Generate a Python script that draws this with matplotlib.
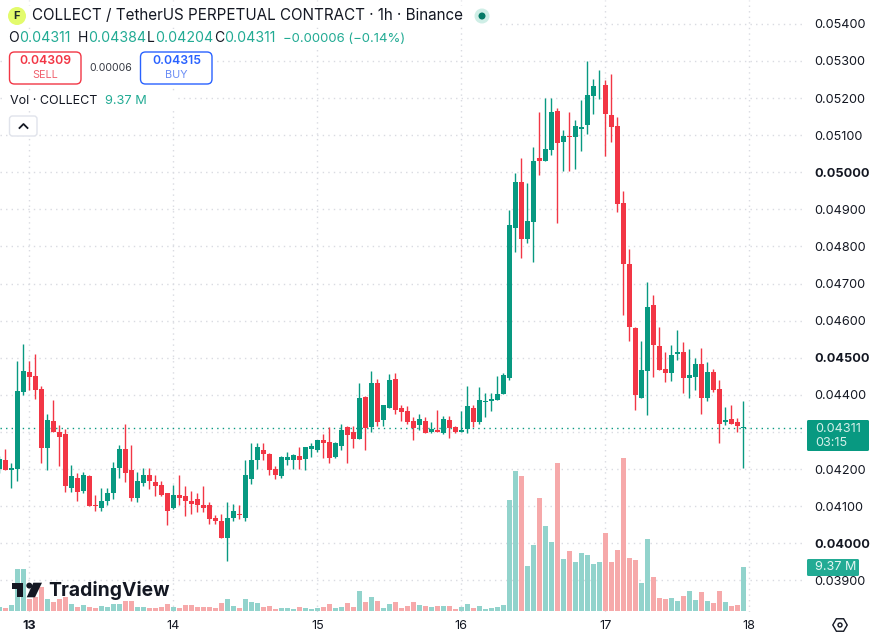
import numpy as np
import matplotlib
matplotlib.use('Agg')
import matplotlib.pyplot as plt
from matplotlib.patches import Circle, FancyBboxPatch, Polygon, Rectangle, RegularPolygon

plt.rcParams['font.family'] = ['Inter', 'DejaVu Sans']

# Hourly OHLC for COLLECTUSDT, in units of 0.00001. Hour 0 is the start of the 13th.
first_hour = -5
opens = [4199, 4223, 4196, 4199, 4407, 4461, 4450, 4415, 4256, 4329, 4299, 4293, 4150, 4175, 4142, 4180, 4104, 4096, 4115, 4134,
         4204, 4253, 4196, 4123, 4161, 4185, 4164, 4156, 4134, 4094, 4129, 4126, 4113, 4118, 4102, 4102, 4067, 4059, 4015, 4067,
         4080, 4069, 4174, 4225, 4252, 4241, 4201, 4182, 4225, 4225, 4236, 4228, 4255, 4250, 4277, 4272, 4231, 4261, 4312, 4299,
         4280, 4393, 4312, 4431, 4331, 4364, 4442, 4364, 4355, 4329, 4318, 4329, 4301, 4304, 4296, 4331, 4312, 4301, 4307, 4364,
         4326, 4380, 4383, 4385, 4401, 4446, 4850, 4974, 4820, 4866, 5039, 5031, 5060, 5166, 5082, 5098, 5095, 5117, 5128, 5206,
         5234, 5236, 5155, 5125, 4917, 4752, 4580, 4391, 4464, 4642, 4531, 4469, 4458, 4509, 4515, 4445, 4447, 4482, 4391, 4461,
         4415, 4328, 4334, 4326, 4311]
highs = [4235, 4253, 4217, 4491, 4537, 4491, 4509, 4423, 4347, 4385, 4318, 4307, 4210, 4188, 4191, 4185, 4131, 4148, 4150, 4218,
         4264, 4320, 4264, 4191, 4204, 4204, 4183, 4169, 4134, 4156, 4185, 4153, 4142, 4134, 4153, 4110, 4077, 4080, 4110, 4107,
         4102, 4223, 4271, 4271, 4271, 4244, 4209, 4236, 4247, 4241, 4260, 4260, 4269, 4277, 4293, 4312, 4272, 4320, 4315, 4315,
         4431, 4396, 4464, 4442, 4372, 4455, 4458, 4372, 4369, 4339, 4347, 4339, 4326, 4358, 4342, 4342, 4315, 4355, 4423, 4372,
         4420, 4404, 4404, 4450, 4458, 4898, 4998, 5039, 4971, 5068, 5163, 5201, 5201, 5174, 5114, 5163, 5141, 5195, 5301, 5252,
         5276, 5249, 5266, 5149, 4950, 4793, 4582, 4544, 4704, 4669, 4582, 4515, 4534, 4574, 4542, 4523, 4499, 4526, 4488, 4469,
         4439, 4366, 4372, 4337, 4384]
lows = [4190, 4196, 4150, 4169, 4399, 4412, 4388, 4215, 4196, 4299, 4207, 4137, 4137, 4115, 4134, 4099, 4088, 4088, 4104, 4118,
        4177, 4164, 4113, 4110, 4153, 4145, 4126, 4126, 4048, 4091, 4104, 4072, 4078, 4085, 4083, 4053, 4053, 4013, 3953, 4061,
        4064, 4061, 4160, 4201, 4225, 4185, 4174, 4177, 4212, 4201, 4201, 4196, 4231, 4245, 4229, 4215, 4229, 4250, 4215, 4256,
        4280, 4250, 4301, 4315, 4315, 4364, 4347, 4329, 4320, 4277, 4304, 4296, 4296, 4301, 4293, 4283, 4296, 4301, 4296, 4312,
        4320, 4339, 4355, 4385, 4401, 4440, 4785, 4769, 4808, 4758, 4993, 5031, 5047, 4863, 5004, 5004, 5009, 5058, 5104, 5158,
        5198, 5044, 5082, 4894, 4615, 4544, 4358, 4391, 4345, 4447, 4466, 4434, 4436, 4493, 4404, 4391, 4412, 4347, 4382, 4407,
        4269, 4318, 4320, 4301, 4204]
closes = [4226, 4196, 4204, 4410, 4464, 4447, 4412, 4256, 4331, 4299, 4285, 4153, 4180, 4137, 4183, 4099, 4099, 4113, 4134, 4204,
          4253, 4188, 4121, 4167, 4185, 4167, 4153, 4131, 4088, 4129, 4123, 4115, 4107, 4104, 4096, 4064, 4059, 4015, 4069, 4086,
          4075, 4183, 4225, 4258, 4241, 4198, 4185, 4231, 4231, 4239, 4223, 4258, 4261, 4277, 4269, 4229, 4269, 4304, 4291, 4280,
          4391, 4310, 4431, 4328, 4372, 4439, 4358, 4353, 4326, 4310, 4334, 4296, 4307, 4301, 4334, 4310, 4301, 4304, 4369, 4326,
          4385, 4383, 4388, 4401, 4453, 4858, 4974, 4820, 4869, 5031, 5031, 5063, 5163, 5079, 5098, 5095, 5125, 5122, 5209, 5233,
          5236, 5158, 5122, 4913, 4752, 4583, 4399, 4466, 4636, 4534, 4466, 4458, 4507, 4515, 4445, 4453, 4482, 4391, 4461, 4412,
          4320, 4331, 4320, 4317, 4311]

# Volume per candle, in millions
volumes = [0.92, 0.57, 1.28, 8.87, 8.87, 2.48, 3.05, 5.04, 2.48, 1.99, 2.48, 2.91, 1.49, 0.85, 1.28, 0.85, 0.64, 1.06, 0.85, 1.49,
           1.49, 2.13, 2.13, 0.85, 0.85, 0.64, 0.64, 0.85, 1.49, 0.85, 0.64, 1.28, 1.28, 0.85, 0.85, 0.85, 0.64, 1.70, 2.56, 1.06,
           0.64, 2.56, 1.92, 1.70, 0.85, 1.06, 0.43, 0.64, 0.64, 0.43, 0.85, 0.64, 0.43, 0.64, 0.85, 1.49, 0.64, 0.85, 1.70, 0.85,
           4.26, 1.92, 2.98, 2.13, 0.64, 1.49, 1.92, 0.64, 1.06, 1.92, 1.28, 1.06, 0.85, 1.06, 1.06, 1.06, 0.43, 0.85, 1.49, 0.64,
           1.06, 0.43, 0.64, 0.85, 1.28, 23.64, 29.81, 28.75, 9.58, 14.05, 24.06, 18.10, 14.69, 31.52, 11.07, 12.78, 10.43, 12.35, 11.93, 10.01,
           10.43, 16.61, 10.43, 12.99, 32.58, 11.29, 10.86, 5.96, 15.33, 7.24, 2.77, 2.56, 2.77, 2.13, 3.19, 4.26, 2.34, 4.05, 2.13, 1.70,
           4.26, 1.92, 1.06, 1.28, 9.37]

price_ticks = [0.054, 0.053, 0.052, 0.051, 0.050, 0.049, 0.048, 0.047, 0.046, 0.045, 0.044, 0.043, 0.042, 0.041, 0.040, 0.039]
bold_prices = [0.050, 0.045, 0.040]
hidden_price = 0.043  # sits under the last price tag
day_ticks = [0, 24, 48, 72, 96, 120]
day_labels = ['13', '14', '15', '16', '17', '18']
last_price = 0.04311

UP = '#089981'
DOWN = '#f23645'
UP_VOL = '#92d3cc'
DOWN_VOL = '#f6a9aa'
GRID = '#d9dbe1'
TEXT = '#131722'

W, H = 874, 639
PLOT_R, PLOT_B = 805, 612

o = np.array(opens) / 1e5
h = np.array(highs) / 1e5
l = np.array(lows) / 1e5
c = np.array(closes) / 1e5
hours = np.arange(len(o)) + first_hour
colors = [UP if cl >= op else DOWN for op, cl in zip(o, c)]
vol_colors = [UP_VOL if cl >= op else DOWN_VOL for op, cl in zip(o, c)]

fig = plt.figure(figsize=(W / 100, H / 100), dpi=100, facecolor='white')
rect = [0, 1 - PLOT_B / H, PLOT_R / W, PLOT_B / H]

# Price pane
ax = fig.add_axes(rect, zorder=1)
ax.set_xlim(-29.3 / 6, (PLOT_R - 29.3) / 6)
px_per_price = 37100
ax.set_ylim(0.05 - (PLOT_B - 172.2) / px_per_price, 0.05 + 172.2 / px_per_price)
for s in ax.spines.values():
    s.set_visible(False)
ax.set_xticks(day_ticks)
ax.set_xticklabels(day_labels)
ax.set_yticks(price_ticks)
ax.set_yticklabels(['' if p == hidden_price else f'{p:.5f}' for p in price_ticks])
ax.yaxis.tick_right()
ax.tick_params(axis='both', length=0, labelsize=9.1, colors=TEXT)
ax.tick_params(axis='x', pad=6)
ax.tick_params(axis='y', pad=7)
ax.set_axisbelow(True)
ax.grid(True, color=GRID, lw=1, ls=(0, (1, 3)))
for lab, p in zip(ax.get_yticklabels(), price_ticks):
    if p in bold_prices:
        lab.set_fontweight('bold')
ax.get_xticklabels()[0].set_fontweight('bold')

ax.vlines(hours, l, h, colors=colors, lw=1, zorder=3)
ax.bar(hours, np.maximum(np.abs(c - o), 0.00002), bottom=np.minimum(o, c), width=0.78,
       color=colors, lw=0, zorder=4)
ax.axhline(last_price, color=UP, lw=1, ls=(0, (1, 3)), zorder=2)

# Volume pane sits on the same rectangle with its own scale
ax_vol = fig.add_axes(rect, zorder=2, sharex=ax)
ax_vol.patch.set_visible(False)
ax_vol.axis('off')
px_per_vol = 44 / 9.37
ax_vol.set_ylim(-1 / px_per_vol, (PLOT_B - 1) / px_per_vol)
ax_vol.bar(hours, volumes, width=0.78, color=vol_colors, lw=0)

# Overlay in pixel coordinates for the legend, tags and logo
ui = fig.add_axes([0, 0, 1, 1], zorder=5)
ui.set_xlim(0, W)
ui.set_ylim(H, 0)
ui.axis('off')


def label(x, y, s, color=TEXT, size=9.2, weight='normal', ha='left', **kw):
    ui.text(x, y, s, color=color, fontsize=size, fontweight=weight, ha=ha, va='center', **kw)


# Legend background hides the grid underneath
ui.add_patch(Rectangle((0, 6), 497, 21, fc='white', ec='none'))
ui.add_patch(Rectangle((0, 29), 410, 18, fc='white', ec='none'))
ui.add_patch(Rectangle((6, 50), 210, 36, fc='white', ec='none'))
ui.add_patch(Rectangle((6, 93), 170, 16, fc='white', ec='none'))

ui.add_patch(Circle((17, 16), 9, fc='#e3fb6c', ec='none'))
label(17, 16.3, 'F', color='#1e2b2a', size=8, weight='bold', ha='center')
label(32, 16, 'COLLECT / TetherUS PERPETUAL CONTRACT · 1h · Binance', size=10.95)
ui.add_patch(Circle((482, 16), 7.5, fc='#cfeee6', ec='none'))
ui.add_patch(Circle((482, 16), 3.5, fc='#067a66', ec='none'))

GREEN_TXT = '#22ab94'
for x_key, key in [(8, 'O'), (78, 'H'), (147, 'L'), (214, 'C')]:
    label(x_key, 38.5, key, size=10)
for x_val, val in [(19, '0.04311'), (88, '0.04384'), (155, '0.04204'), (224, '0.04311')]:
    label(x_val, 38.5, val, color=GREEN_TXT, size=10.2)
label(283, 38.5, '\u22120.00006 (\u22120.14%)', color=GREEN_TXT, size=9.45)

ui.add_patch(FancyBboxPatch((9.5, 52), 71.5, 32, boxstyle='round,pad=0,rounding_size=5', fc='white', ec=DOWN, lw=1))
label(45.5, 61, '0.04309', color=DOWN, size=8.8, weight='semibold', ha='center')
label(45.5, 75, 'SELL', color='#f0616e', size=7.8, ha='center')
label(110.5, 68, '0.00006', size=7.6, ha='center', alpha=0.85)
ui.add_patch(FancyBboxPatch((140.5, 52), 71.5, 32, boxstyle='round,pad=0,rounding_size=5', fc='white', ec='#2962ff', lw=1))
label(176.5, 61, '0.04315', color='#2962ff', size=8.8, weight='semibold', ha='center')
label(176.5, 75, 'BUY', color='#6a8cf5', size=7.8, ha='center')

label(10, 101.5, 'Vol · COLLECT', size=9)
label(105, 101.5, '9.37 M', color=GREEN_TXT, size=9.2)

ui.add_patch(FancyBboxPatch((9.5, 116), 27.5, 20, boxstyle='round,pad=0,rounding_size=3', fc='white', ec='#e0e3eb', lw=1))
ui.plot([19.5, 23.5, 27.5], [128, 124, 128], color=TEXT, lw=1.3)

# Last price and volume tags on the scale
ui.add_patch(FancyBboxPatch((807, 420), 62, 31, boxstyle='round,pad=0,rounding_size=1.5', fc='#089981', ec='none'))
label(815, 429, '0.04311', color='#d5f0ea', size=9.1)
label(815, 443, '03:15', color='#d5f0ea', size=9.1)
ui.add_patch(FancyBboxPatch((807, 559), 52, 17, boxstyle='round,pad=0,rounding_size=1.5', fc='#22ab94', ec='none'))
label(815, 567.5, '9.37 M', color='#e3f6f2', size=9.1)

# Scale settings icon
ui.add_patch(RegularPolygon((840, 625), 6, radius=7.2, orientation=np.pi / 2, fc='white', ec=TEXT, lw=1))
ui.add_patch(Circle((840, 625), 2, fc='white', ec=TEXT, lw=1))

# TradingView mark
ui.add_patch(Polygon([(12.3, 582.7), (22.7, 582.7), (22.7, 597.3), (16.7, 597.3), (16.7, 588.5), (12.3, 588.5)], fc=TEXT, ec='none'))
ui.add_patch(Circle((29.3, 585.6), 3, fc=TEXT, ec='none'))
ui.add_patch(Polygon([(33.3, 582.7), (42, 582.7), (35, 597.3), (26.7, 597.3)], fc=TEXT, ec='none'))
label(48.5, 590, 'TradingView', size=13.9, weight='bold')

fig.savefig('out.png', dpi=100)
